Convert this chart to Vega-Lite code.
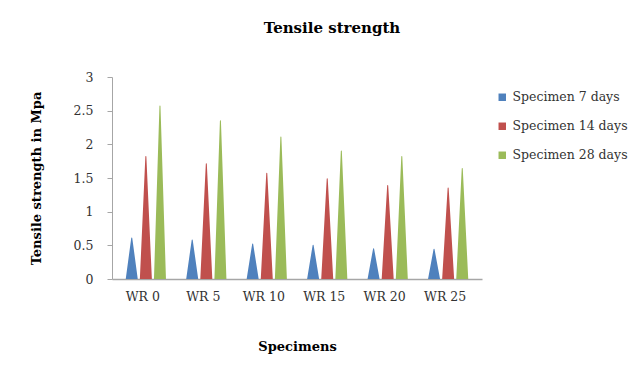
{
  "$schema": "https://vega.github.io/schema/vega-lite/v6.json",
  "width": 370,
  "height": 202,
  "autosize": {"type": "none"},
  "padding": {"left": 112, "top": 77, "right": 152, "bottom": 89},
  "background": "white",
  "config": {
    "font": "DejaVu Serif",
    "view": {"stroke": null}
  },
  "title": {
    "text": "Tensile strength",
    "font": "DejaVu Serif",
    "fontSize": 15,
    "fontWeight": "bold",
    "color": "#000000",
    "anchor": "middle",
    "dx": 35,
    "offset": 35
  },
  "data": {
    "values": [
      {"specimen": "WR 0", "series": "Specimen 7 days", "value": 0.61},
      {"specimen": "WR 0", "series": "Specimen 14 days", "value": 1.82},
      {"specimen": "WR 0", "series": "Specimen 28 days", "value": 2.57},
      {"specimen": "WR 5", "series": "Specimen 7 days", "value": 0.58},
      {"specimen": "WR 5", "series": "Specimen 14 days", "value": 1.71},
      {"specimen": "WR 5", "series": "Specimen 28 days", "value": 2.35},
      {"specimen": "WR 10", "series": "Specimen 7 days", "value": 0.52},
      {"specimen": "WR 10", "series": "Specimen 14 days", "value": 1.57},
      {"specimen": "WR 10", "series": "Specimen 28 days", "value": 2.11},
      {"specimen": "WR 15", "series": "Specimen 7 days", "value": 0.5},
      {"specimen": "WR 15", "series": "Specimen 14 days", "value": 1.49},
      {"specimen": "WR 15", "series": "Specimen 28 days", "value": 1.9},
      {"specimen": "WR 20", "series": "Specimen 7 days", "value": 0.45},
      {"specimen": "WR 20", "series": "Specimen 14 days", "value": 1.39},
      {"specimen": "WR 20", "series": "Specimen 28 days", "value": 1.82},
      {"specimen": "WR 25", "series": "Specimen 7 days", "value": 0.44},
      {"specimen": "WR 25", "series": "Specimen 14 days", "value": 1.35},
      {"specimen": "WR 25", "series": "Specimen 28 days", "value": 1.64}
    ]
  },
  "transform": [
    {"fold": ["value"], "as": ["part", "v"]},
    {"impute": "v", "key": "part", "keyvals": ["base", "value"], "groupby": ["specimen", "series"], "value": 0}
  ],
  "mark": {"type": "trail", "clip": true},
  "encoding": {
    "x": {
      "field": "specimen",
      "type": "nominal",
      "sort": ["WR 0", "WR 5", "WR 10", "WR 15", "WR 20", "WR 25"],
      "scale": {"paddingInner": 0.3, "paddingOuter": 0.21},
      "axis": {
        "title": "Specimens",
        "titleFont": "DejaVu Serif",
        "titleFontSize": 13,
        "titleFontWeight": "bold",
        "titleColor": "#000000",
        "titlePadding": 38,
        "labelAngle": 0,
        "labelFont": "DejaVu Serif",
        "labelFontSize": 12.5,
        "labelColor": "#333333",
        "labelPadding": 11,
        "labelOffset": -3,
        "ticks": false,
        "domainColor": "#a6a6a6",
        "domainWidth": 1.5
      }
    },
    "xOffset": {
      "field": "series",
      "type": "nominal",
      "sort": ["Specimen 7 days", "Specimen 14 days", "Specimen 28 days"]
    },
    "y": {
      "field": "v",
      "type": "quantitative",
      "scale": {"domain": [0, 3], "nice": false},
      "axis": {
        "title": "Tensile strength in Mpa",
        "titleFont": "DejaVu Serif",
        "titleFontSize": 13,
        "titleFontWeight": "bold",
        "titleColor": "#000000",
        "titlePadding": 30,
        "values": [0, 0.5, 1, 1.5, 2, 2.5, 3],
        "format": "~g",
        "labelFont": "DejaVu Serif",
        "labelFontSize": 12.5,
        "labelColor": "#333333",
        "labelPadding": 14,
        "grid": false,
        "tickColor": "#a6a6a6",
        "tickSize": 5,
        "domainColor": "#a6a6a6"
      }
    },
    "size": {
      "field": "part",
      "type": "nominal",
      "scale": {"domain": ["base", "value"], "range": [12, 0]},
      "legend": null
    },
    "color": {
      "field": "series",
      "type": "nominal",
      "sort": ["Specimen 7 days", "Specimen 14 days", "Specimen 28 days"],
      "scale": {"range": ["#4F81BD", "#C0504D", "#9BBB59"]},
      "legend": {
        "title": null,
        "orient": "none",
        "legendX": 384,
        "legendY": 14,
        "symbolType": "square",
        "symbolSize": 12,
        "symbolStrokeWidth": 4,
        "labelFont": "DejaVu Serif",
        "labelFontSize": 12.5,
        "labelColor": "#333333",
        "rowPadding": 9,
        "labelOffset": 4
      }
    },
    "detail": {"field": "specimen", "type": "nominal"},
    "order": {"field": "part", "type": "nominal"}
  }
}
